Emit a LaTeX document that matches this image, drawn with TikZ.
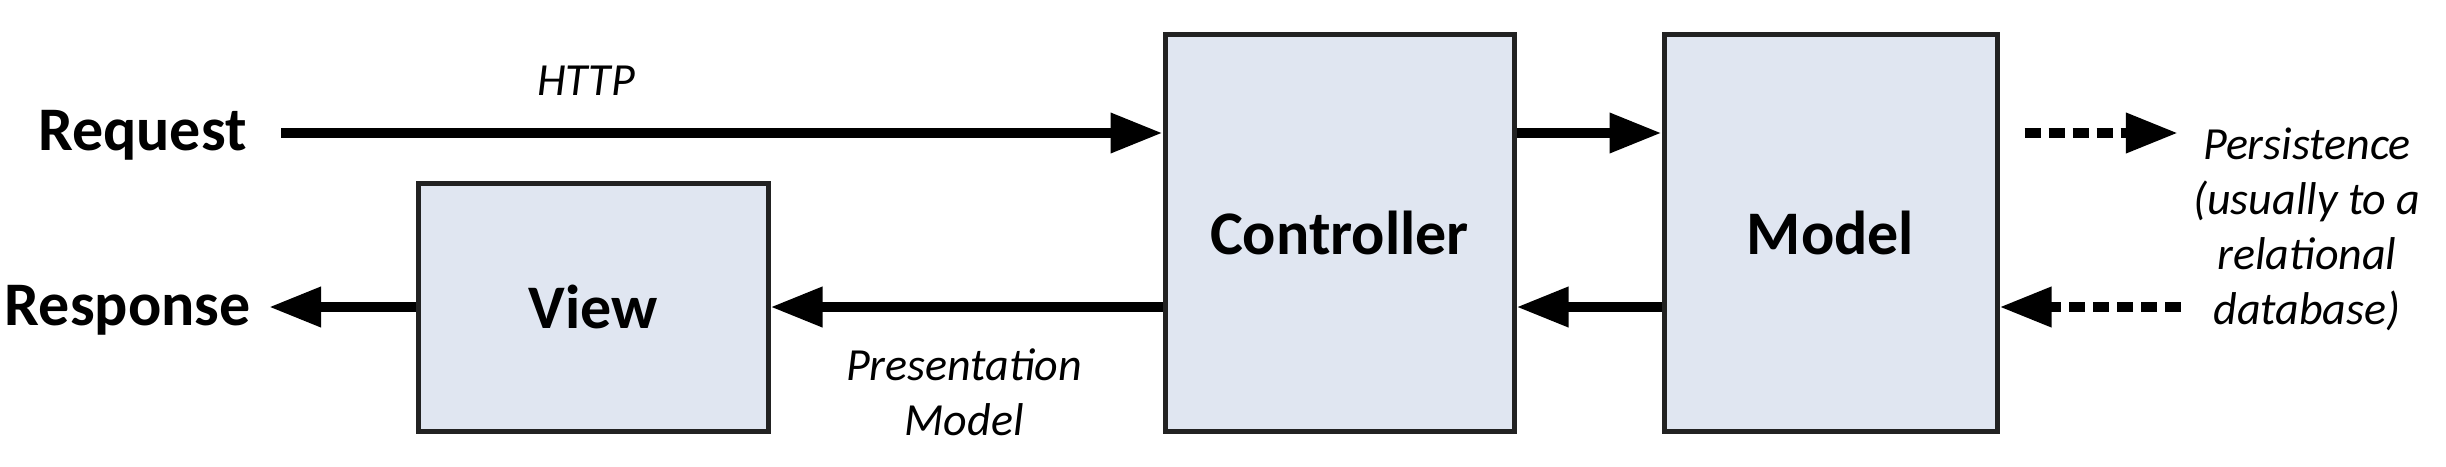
\documentclass[tikz,border=0pt]{standalone}
\usepackage{fontspec}
\setmainfont{Carlito}
\usetikzlibrary{arrows.meta}
\definecolor{boxfill}{HTML}{E0E6F1}
\definecolor{boxline}{HTML}{222222}
\begin{document}
\begin{tikzpicture}[x=0.5pt,y=-0.5pt,
  box/.style={draw=boxline,line width=2.5pt,fill=boxfill,inner sep=0pt,
    font=\fontsize{31}{37}\selectfont\bfseries},
  lbl/.style={font=\fontsize{31}{37}\selectfont\bfseries,inner sep=0pt},
  note/.style={font=\fontsize{23}{27.5}\selectfont\itshape,align=center,inner sep=0pt},
  arr/.style={line width=5pt,-{Triangle[length=26pt,width=19pt]}},
  darr/.style={arr,dash pattern=on 8pt off 4pt}]
\path[use as bounding box] (0,0) rectangle (2446,466);
\coordinate (rowA) at (0,133);
\coordinate (rowB) at (0,307);
% boxes
\node[box,minimum width=174.5pt,minimum height=198.5pt] (ctrl) at (1339.5,233) {Controller};
\node[box,minimum width=166.5pt,minimum height=198.5pt] (model) at (1830.5,233) {Model};
\node[box,minimum width=175pt,minimum height=124pt] (view) at (593,307) {View};
% labels
\node[lbl,anchor=base east] (req) at (247,150) {Request};
\node[lbl,anchor=base east] (resp) at (251,325) {Response};
\node[note,anchor=base] (http) at (586,95) {HTTP};
\node[note] (pm) at (964,392) {Presentation\\Model};
\node[note] (pers) at (2307,229) {Persistence\\(usually to a\\relational\\database)};
% connectors
\draw[arr] ([xshift=17pt]req.east |- rowA) -- (ctrl.west |- rowA);
\draw[arr] (ctrl.east |- rowA) -- (model.west |- rowA);
\draw[arr] (model.west |- rowB) -- (ctrl.east |- rowB);
\draw[arr] (ctrl.west |- rowB) -- (view.east |- rowB);
\draw[arr] (view.west |- rowB) -- ([xshift=9pt]resp.east |- rowB);
\draw[darr] ([xshift=12.5pt]model.east |- rowA) -- ([xshift=-7.5pt]pers.west |- rowA);
\draw[darr] ([xshift=-6pt]pers.west |- rowB) -- (model.east |- rowB);
\end{tikzpicture}
\end{document}
